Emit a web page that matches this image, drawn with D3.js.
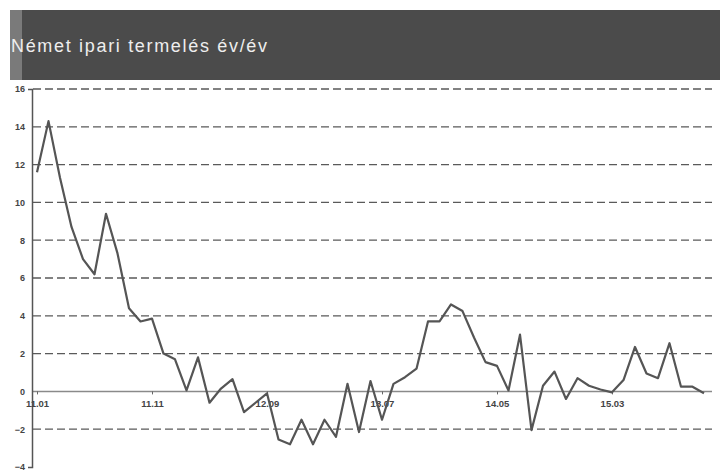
<!DOCTYPE html>
<html>
<head>
<meta charset="utf-8">
<script src="https://cdn.jsdelivr.net/npm/d3@7"></script>
<style>
  body { margin: 0; background: #fff; }
  svg { display: block; font-family: "Liberation Sans", Arial, sans-serif; }
</style>
</head>
<body>
<svg id="chart" width="720" height="473"></svg>
<script>
// monthly data, 2011.01 .. 2015.11
const startYear = 2011;
const values = [
    11.6, 14.3, 11.3, 8.7, 7.0, 6.2, 9.4, 7.3, 4.4, 3.7,
    3.85, 2.0, 1.7, 0.05, 1.8, -0.6, 0.15, 0.65, -1.1, -0.6,
    -0.1, -2.55, -2.8, -1.5, -2.8, -1.5, -2.4, 0.4, -2.15, 0.55,
    -1.5, 0.4, 0.75, 1.2, 3.7, 3.7, 4.6, 4.25, 2.85, 1.55,
    1.35, 0.05, 3.0, -2.05, 0.3, 1.05, -0.4, 0.7, 0.3, 0.1,
    -0.05, 0.6, 2.35, 0.95, 0.7, 2.55, 0.25, 0.25, -0.1
];
const yTicks = [16, 14, 12, 10, 8, 6, 4, 2, 0, -2, -4];
const xTickIdx = [0, 10, 20, 30, 40, 50];
const title = "Német ipari termelés év/év";

const label = i => {
    const y = startYear + Math.floor(i / 12);
    const m = (i % 12) + 1;
    return String(y).slice(2) + "." + String(m).padStart(2, "0");
};

const svg = d3.select("#chart");

// title bar
svg.append("rect")
    .attr("x", 22).attr("y", 10)
    .attr("width", 698).attr("height", 70)
    .attr("fill", "#4b4b4b");
svg.append("rect")
    .attr("x", 10).attr("y", 10)
    .attr("width", 12).attr("height", 70)
    .attr("fill", "#7a7a7a");
svg.append("text")
    .attr("x", 11).attr("y", 52)
    .attr("fill", "#eeeeee")
    .attr("font-size", 18)
    .attr("textLength", 256)
    .attr("lengthAdjust", "spacing")
    .text(title);

const x = d3.scaleLinear()
    .domain([0, values.length - 1])
    .range([37, 704]);

const y = d3.scaleLinear()
    .domain([-4, 16])
    .range([467, 89]);

// dashed grid lines
svg.append("g")
    .selectAll("line")
    .data(yTicks.filter(d => d !== 0 && d !== -4))
    .enter()
    .append("line")
    .attr("x1", 33).attr("x2", 712)
    .attr("y1", d => y(d)).attr("y2", d => y(d))
    .attr("stroke", "#5a5a5a")
    .attr("stroke-width", 1.3)
    .attr("stroke-dasharray", "8,4");

// zero line
svg.append("line")
    .attr("x1", 32).attr("x2", 712)
    .attr("y1", y(0)).attr("y2", y(0))
    .attr("stroke", "#8a8a8a")
    .attr("stroke-width", 1.5);

// Y axis
const yAxis = svg.append("g")
    .attr("transform", "translate(32,0)")
    .call(d3.axisLeft(y).tickValues(yTicks).tickSize(0).tickSizeOuter(4).tickPadding(7).tickFormat(d3.format("d")));
yAxis.select(".domain").attr("stroke", "#555").attr("stroke-width", 1.5);
yAxis.selectAll("text")
    .attr("fill", "#444")
    .attr("font-size", 9)
    .attr("font-weight", "bold");

// X axis on the zero line
const xAxis = svg.append("g")
    .attr("transform", "translate(0," + y(0) + ")")
    .call(d3.axisBottom(x).tickValues(xTickIdx).tickSize(3).tickPadding(6).tickFormat(label));
xAxis.select(".domain").remove();
xAxis.selectAll("line").attr("stroke", "#666");
xAxis.selectAll("text")
    .attr("fill", "#444")
    .attr("font-size", 9.5)
    .attr("font-weight", "bold");

// series line
const line = d3.line()
    .x((d, i) => x(i))
    .y(d => y(d));

svg.append("path")
    .datum(values)
    .attr("fill", "none")
    .attr("stroke", "#555")
    .attr("stroke-width", 2.2)
    .attr("stroke-linejoin", "round")
    .attr("d", line);
</script>
</body>
</html>
